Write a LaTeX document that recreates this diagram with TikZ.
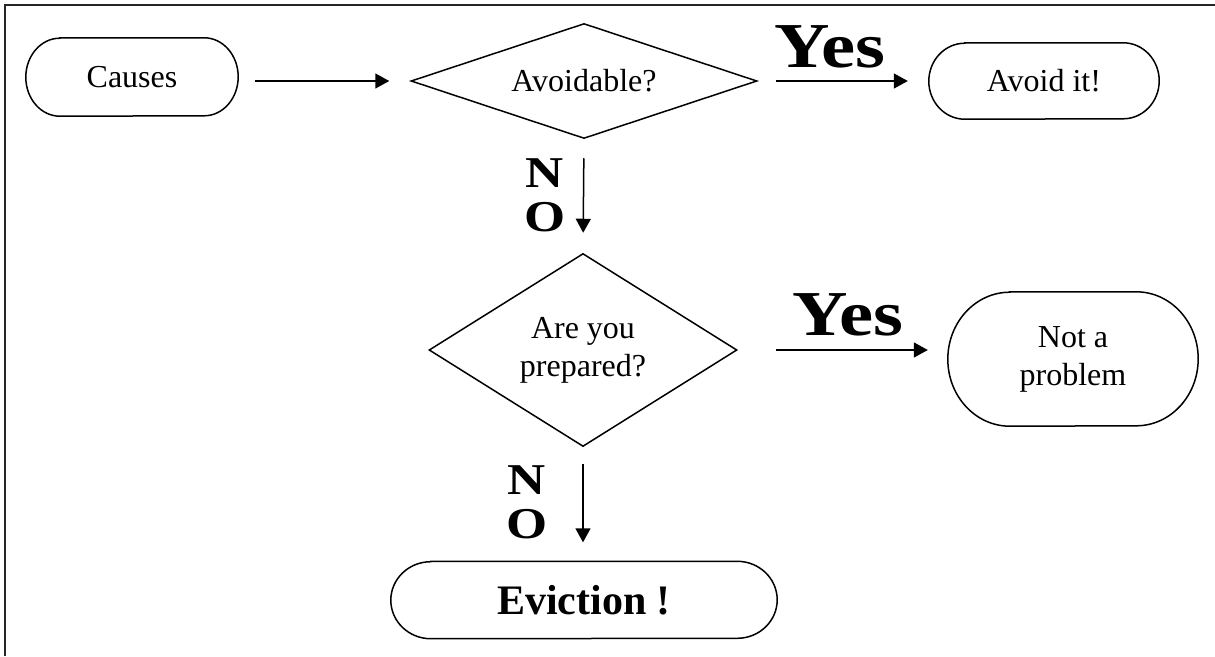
\documentclass[tikz,border=0pt]{standalone}
\usepackage{fontspec}
\setmainfont{Liberation Serif}
\newfontfamily\wideserif[FakeStretch=1.2]{Liberation Serif}
\usetikzlibrary{shapes.geometric,arrows.meta}

\tikzset{
  every node/.style={inner sep=0pt},
  body/.style={font=\fontsize{32}{38}\selectfont, align=center},
  terminal/.style={rectangle, body},
  outline/.style={line width=1.5pt},
  decision/.style={diamond, draw, outline, body},
  arr/.style={line width=1.5pt, -{Triangle[length=14pt,width=15pt]}},
  yeslabel/.style={font=\wideserif\bfseries\fontsize{64}{70}\selectfont, anchor=base},
  nolabel/.style={font=\wideserif\bfseries\fontsize{44}{44}\selectfont, align=center},
}

% terminator outline round a node: straight top and bottom, half-ellipse ends
% #1 node name, #2 horizontal radius of the ends, #3 half the node height
\newcommand\termoutline[3]{%
  \draw[outline] ([xshift=#2]#1.north west) -- ([xshift=-#2]#1.north east)
    arc[start angle=90, end angle=-90, x radius=#2, y radius=#3]
    -- ([xshift=#2]#1.south west)
    arc[start angle=270, end angle=90, x radius=#2, y radius=#3] -- cycle;}

\begin{document}
\begin{tikzpicture}[x=1pt, y=-1pt]
  \useasboundingbox (0,0) rectangle (1215,656);

  % page frame: left and top rules only
  \draw[line width=2pt, black!85] (5,656) -- (5,5) -- (1215,5);

  % nodes
  \node[terminal, minimum width=212pt, minimum height=78pt] (causes) at (132,77) {Causes};
  \node[decision, shape aspect=3, minimum width=346pt, minimum height=115pt] (avoidq) at (584,81) {Avoidable?};
  \node[terminal, minimum width=230pt, minimum height=76pt] (avoidit) at (1044,81) {Avoid it!};
  \node[decision, shape aspect=1.6, minimum width=308pt, minimum height=193pt] (prepq) at (583,350) {Are you\\prepared?};
  \node[terminal, minimum width=250pt, minimum height=134pt] (notprob) at (1073,359) {Not a\\problem};
  \node[terminal, minimum width=386pt, minimum height=77pt,
        font=\bfseries\fontsize{42}{46}\selectfont] (evict) at (584,600) {Eviction !};

  \termoutline{causes}{34pt}{39pt}
  \termoutline{avoidit}{36pt}{38pt}
  \termoutline{notprob}{62pt}{67pt}
  \termoutline{evict}{40pt}{38.5pt}

  % labels
  \node[yeslabel] (yes1) at (830,67) {Yes};
  \node[yeslabel] (yes2) at (848,335) {Yes};
  \node[nolabel] (no1) at (545,195) {N\\O};
  \node[nolabel] (no2) at (527,502) {N\\O};

  % connectors
  \draw[arr, shorten <=17pt, shorten >=21pt] (causes.east |- avoidq.west) -- (avoidq.west);
  \draw[arr, shorten <=18pt, shorten >=21pt] (avoidq.east) -- (avoidit.west |- avoidq.east);
  \draw[arr, shorten <=19pt, shorten >=20pt] (avoidq.south) -- (prepq.north);
  \draw[arr, shorten <=38pt, shorten >=20pt] (prepq.east) -- (notprob.west |- prepq.east);
  \draw[arr, shorten <=17pt, shorten >=19pt] (prepq.south) -- (prepq.south |- evict.north);
\end{tikzpicture}
\end{document}
